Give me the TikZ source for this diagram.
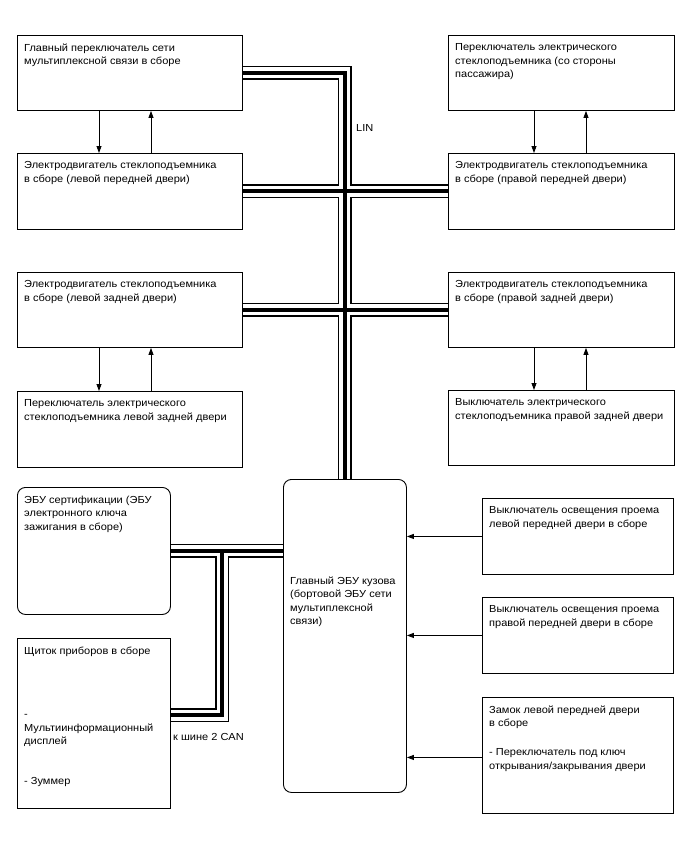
\documentclass[tikz,border=0pt]{standalone}
\usepackage{fontspec}
\setmainfont[FakeStretch=1.08]{Liberation Sans}
\usetikzlibrary{arrows.meta,positioning,calc}
\tikzset{
  unit/.style={draw, rectangle, line width=0.9pt, inner sep=0pt, anchor=north west},
  unitr/.style={unit, rounded corners=8pt},
  txt/.style={anchor=north west, align=left, inner xsep=7pt, inner ysep=4pt, yshift=-4.5pt,
    font=\fontsize{10.2}{13.5}\selectfont},
  arr/.style={line width=0.8pt, -{Triangle[length=7pt,width=5pt]}},
}

\begin{document}
\begin{tikzpicture}[x=1pt, y=-1pt]
  \useasboundingbox (0,0) rectangle (688,852);

  % door side units
  \node[unit, minimum width=225pt, minimum height=75pt] (glsw) at (17,35)
    [label={[txt]north west:{Главный переключатель сети\\мультиплексной связи в сборе}}] {};
  \node[unit, minimum width=226pt, minimum height=75pt] (passw) at (448,35)
    [label={[txt]north west:{Переключатель электрического\\стеклоподъемника (со стороны\\пассажира)}}] {};
  \node[unit, minimum width=225pt, minimum height=76pt] (lfmot) at (17,153)
    [label={[txt]north west:{Электродвигатель стеклоподъемника\\в сборе (левой передней двери)}}] {};
  \node[unit, minimum width=226pt, minimum height=76pt] (rfmot) at (448,153)
    [label={[txt]north west:{Электродвигатель стеклоподъемника\\в сборе (правой передней двери)}}] {};
  \node[unit, minimum width=225pt, minimum height=75pt] (lrmot) at (17,272)
    [label={[txt]north west:{Электродвигатель стеклоподъемника\\в сборе (левой задней двери)}}] {};
  \node[unit, minimum width=226pt, minimum height=75pt] (rrmot) at (448,272)
    [label={[txt]north west:{Электродвигатель стеклоподъемника\\в сборе (правой задней двери)}}] {};
  \node[unit, minimum width=225pt, minimum height=76pt] (lrsw) at (17,391)
    [label={[txt]north west:{Переключатель электрического\\стеклоподъемника левой задней двери}}] {};
  \node[unit, minimum width=226pt, minimum height=75pt] (rrsw) at (448,390)
    [label={[txt]north west:{Выключатель электрического\\стеклоподъемника правой задней двери}}] {};

  % body side units
  \node[unitr, minimum width=153pt, minimum height=127pt] (certecu) at (17,487)
    [label={[txt]north west:{ЭБУ сертификации (ЭБУ\\электронного ключа\\зажигания в сборе)}}] {};
  \node[unit, minimum width=153pt, minimum height=170pt] (meter) at (17,638)
    [label={[txt]north west:{Щиток приборов в сборе\\[50pt]-\\Мультиинформационный\\дисплей\\[26.5pt]- Зуммер}}] {};
  \node[unitr, minimum width=123pt, minimum height=313pt] (bodyecu) at (283,479)
    [label={[txt, yshift=-89pt]north west:{Главный ЭБУ кузова\\(бортовой ЭБУ сети\\мультиплексной\\связи)}}] {};
  \node[unit, minimum width=191pt, minimum height=76pt] (lcsw) at (482,498)
    [label={[txt]north west:{Выключатель освещения проема\\левой передней двери в сборе}}] {};
  \node[unit, minimum width=191pt, minimum height=76pt] (rcsw) at (482,597)
    [label={[txt]north west:{Выключатель освещения проема\\правой передней двери в сборе}}] {};
  \node[unit, minimum width=191pt, minimum height=116pt] (lock) at (482,697)
    [label={[txt]north west:{Замок левой передней двери\\в сборе\\[15.5pt]- Переключатель под ключ\\открывания/закрывания двери}}] {};

  \coordinate (canjoint) at (222,550.5);

  % LIN and CAN buses
  \foreach \w/\clr in {14/black, 11/white, 4/black} {
    \draw[line width=\w pt, draw=\clr] (glsw.east) -| (bodyecu.north);
    \draw[line width=\w pt, draw=\clr] (lfmot.east) -- (rfmot.west);
    \draw[line width=\w pt, draw=\clr] (lrmot.east) -- (rrmot.west);
    \draw[line width=\w pt, draw=\clr] (certecu.east) -- (certecu.east -| bodyecu.west);
    \draw[line width=\w pt, draw=\clr] ([yshift=8pt]meter.east) -| (canjoint);
  }
  \node[anchor=west, inner sep=0pt, font=\fontsize{10.2}{13.5}\selectfont] (lin) at (356,128) {LIN};
  \node[anchor=west, inner sep=0pt, font=\fontsize{10.2}{13.5}\selectfont] (can) at (173,737) {к шине 2 CAN};

  % signal lines
  \draw[arr] ([xshift=82pt]glsw.south west) -- ([xshift=82pt]lfmot.north west);
  \draw[arr] ([xshift=134pt]lfmot.north west) -- ([xshift=134pt]glsw.south west);
  \draw[arr] ([xshift=86pt]passw.south west) -- ([xshift=86pt]rfmot.north west);
  \draw[arr] ([xshift=138pt]rfmot.north west) -- ([xshift=138pt]passw.south west);
  \draw[arr] ([xshift=82pt]lrmot.south west) -- ([xshift=82pt]lrsw.north west);
  \draw[arr] ([xshift=134pt]lrsw.north west) -- ([xshift=134pt]lrmot.south west);
  \draw[arr] ([xshift=86pt]rrmot.south west) -- ([xshift=86pt]rrsw.north west);
  \draw[arr] ([xshift=138pt]rrsw.north west) -- ([xshift=138pt]rrmot.south west);
  \draw[arr] (lcsw.west) -- (lcsw.west -| bodyecu.east);
  \draw[arr] (rcsw.west) -- (rcsw.west -| bodyecu.east);
  \draw[arr] ([yshift=-2pt]lock.west) -- ([yshift=-2pt]lock.west -| bodyecu.east);
\end{tikzpicture}
\end{document}
